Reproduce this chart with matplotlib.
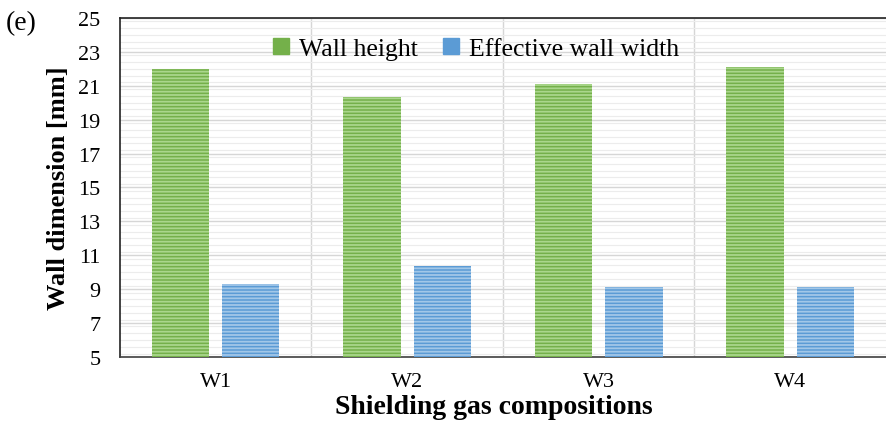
import matplotlib
matplotlib.use("Agg")
import matplotlib.pyplot as plt
import numpy as np
from matplotlib.patches import Patch
from matplotlib.ticker import MultipleLocator

categories = ["W1", "W2", "W3", "W4"]
wall_height = [22.0, 20.35, 21.1, 22.1]
wall_width = [9.3, 10.35, 9.1, 9.1]

plt.rcParams['font.family'] = ['Liberation Serif', 'DejaVu Serif']
plt.rcParams['hatch.linewidth'] = 1.3

green, green_l = '#74B04A', '#AAD68C'
blue, blue_l = '#5B9BD5', '#A2C7E8'

fig = plt.figure(figsize=(8.86, 4.27), dpi=100)
ax = fig.add_axes([0.1354, 0.1616, 0.8646, 0.794])

x = np.arange(len(categories))
w = 0.30
off = 0.183

def striped_bars(xs, vals, base, stripe):
    ax.bar(xs, np.array(vals) - 5, w, bottom=5, color=base, linewidth=0, zorder=3)
    plt.rcParams['hatch.color'] = stripe
    ax.bar(xs, np.array(vals) - 5, w, bottom=5, facecolor='none', edgecolor=stripe,
           hatch='-----', linewidth=0, zorder=4)

striped_bars(x - off, wall_height, green, green_l)
striped_bars(x + off, wall_width, blue, blue_l)

ax.set_xlim(-0.5, 3.5)
ax.set_ylim(5, 25)
ax.yaxis.set_major_locator(MultipleLocator(2))
ax.yaxis.set_minor_locator(MultipleLocator(0.4))
ax.set_xticks(x)
ax.set_xticklabels(categories)
ax.set_xticks([0.5, 1.5, 2.5], minor=True)
ax.set_yticks([5, 7, 9, 11, 13, 15, 17, 19, 21, 23, 25])

ax.grid(True, which='major', axis='y', color='#d6d6d6', linewidth=1.0, zorder=0)
ax.grid(True, which='minor', axis='y', color='#ececec', linewidth=0.8, zorder=0)
ax.grid(True, which='minor', axis='x', color='#d6d6d6', linewidth=1.0, zorder=0)
ax.set_axisbelow(True)

ax.tick_params(axis='y', which='both', length=0, labelsize=16, pad=14)
ax.tick_params(axis='x', which='both', length=0, labelsize=16, pad=11)

for s in ['left', 'top', 'bottom']:
    ax.spines[s].set_color('#222222')
    ax.spines[s].set_linewidth(1.2)
ax.spines['bottom'].set_color('#404040')
ax.spines['right'].set_visible(False)

ax.set_ylabel('Wall dimension [mm]', fontsize=19, fontweight='bold', labelpad=6)
ax.set_xlabel('Shielding gas compositions', fontsize=20, fontweight='bold', labelpad=0)
ax.xaxis.set_label_coords(0.488, -0.11)

handles = [Patch(facecolor=green, edgecolor=green), Patch(facecolor=blue, edgecolor=blue)]
ax.legend(handles, ['Wall height', 'Effective wall width'], loc='upper center',
          bbox_to_anchor=(0.465, 1.01), ncol=2, frameon=False, fontsize=18.5,
          handlelength=0.6, handleheight=0.6, handletextpad=0.4, columnspacing=1.0)

fig.text(0.006, 0.93, '(e)', fontsize=20)

fig.savefig('out.png', dpi=100)
